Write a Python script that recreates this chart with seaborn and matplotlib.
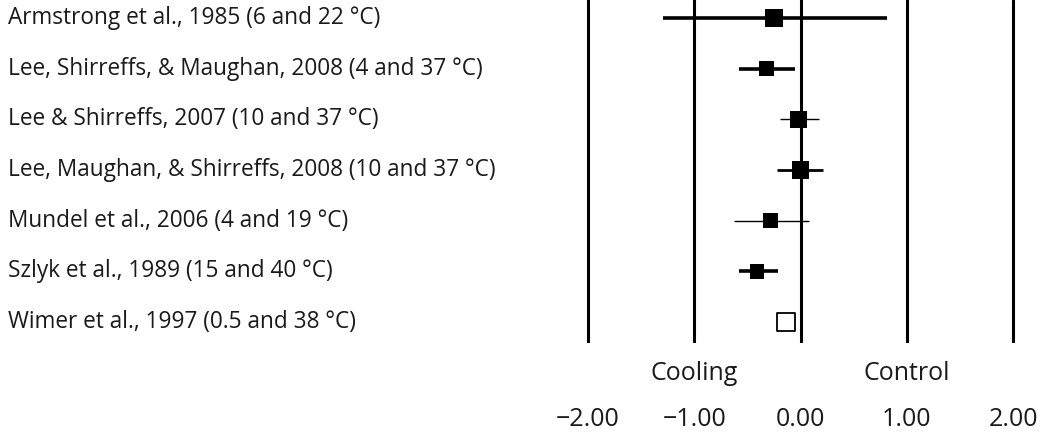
import numpy as np
import pandas as pd
import matplotlib
matplotlib.use("Agg")
import matplotlib.pyplot as plt
import seaborn as sns

# study labels, effect sizes and confidence limits
studies = [
    "Armstrong et al., 1985 (6 and 22 °C)",
    "Lee, Shirreffs, & Maughan, 2008 (4 and 37 °C)",
    "Lee & Shirreffs, 2007 (10 and 37 °C)",
    "Lee, Maughan, & Shirreffs, 2008 (10 and 37 °C)",
    "Mundel et al., 2006 (4 and 19 °C)",
    "Szlyk et al., 1989 (15 and 40 °C)",
    "Wimer et al., 1997 (0.5 and 38 °C)",
]
effect = [-0.25, -0.32, -0.02, 0.00, -0.28, -0.41, -0.14]
ci_low = [-1.29, -0.58, -0.19, -0.22, -0.63, -0.58, np.nan]
ci_high = [0.81, -0.05, 0.17, 0.21, 0.08, -0.21, np.nan]
weight = [17, 15, 16, 17, 15, 14, 18]  # square size in px
filled = [True, True, True, True, True, True, False]
ci_width = [2.6, 2.6, 1.0, 2.0, 1.0, 2.6, 0]
ref_lines = [-2, -1, 0, 1, 2]
tick_labels = ["\u22122.00", "\u22121.00", "0.00", "1.00", "2.00"]

df = pd.DataFrame({
    "study": studies,
    "effect": effect,
    "lo": ci_low,
    "hi": ci_high,
    "size": weight,
    "filled": filled,
    "lw": ci_width,
})
df["row"] = np.arange(len(df))

sns.set_theme(style="white")
plt.rcParams["font.family"] = ["Open Sans", "DejaVu Sans"]

W, H = 1045, 433
fig = plt.figure(figsize=(W / 100, H / 100), dpi=100)
ax_left, ax_right, ax_top, ax_bot = 560, 1045, 0, 343
ax = fig.add_axes([ax_left / W, 1 - ax_bot / H, (ax_right - ax_left) / W, (ax_bot - ax_top) / H])

# x scale: -2 at 588 px, 2 at 1013 px
ppu = (1013 - 588) / 4
zero = 588 + 2 * ppu
ax.set_xlim((ax_left - zero) / ppu, (ax_right - zero) / ppu)
row_gap = (322 - 18) / 6
ax.set_ylim(6 + (ax_bot - 322) / row_gap, -18 / row_gap)

for x in ref_lines:
    ax.axvline(x, color="black", lw=2.2, zorder=1)

for _, r in df.iterrows():
    if not np.isnan(r["lo"]):
        ax.hlines(r["row"], r["lo"], r["hi"], color="black", lw=r["lw"], zorder=2)

full = df[df["filled"]]
sns.scatterplot(data=full, x="effect", y="row", marker="s", s=(full["size"] * 0.74) ** 2,
                color="black", edgecolor="black", linewidth=0, ax=ax, zorder=3, legend=False)
empty = df[~df["filled"]]
sns.scatterplot(data=empty, x="effect", y="row", marker="s", s=(empty["size"] * 0.72) ** 2,
                facecolor="white", edgecolor="black", linewidth=1.3, ax=ax, zorder=3, legend=False)

txt = "#1a1a1a"
for _, r in df.iterrows():
    ax.text((8 - ax_left) / (ax_right - ax_left), r["row"], r["study"],
            transform=ax.get_yaxis_transform(), ha="left", va="center",
            fontsize=16.3, color=txt)

y_side = -(373 - ax_bot) / (ax_bot - ax_top)
ax.text(-1, y_side, "Cooling", transform=ax.get_xaxis_transform(),
        ha="center", va="center", fontsize=18, color=txt)
ax.text(1, y_side, "Control", transform=ax.get_xaxis_transform(),
        ha="center", va="center", fontsize=18, color=txt)

ax.set_xticks(ref_lines)
ax.set_xticklabels(tick_labels, fontsize=18, color=txt)
ax.tick_params(axis="x", length=0, pad=(407 - ax_bot) * 0.72)
ax.set_yticks([])
ax.set_xlabel("")
ax.set_ylabel("")
sns.despine(ax=ax, left=True, bottom=True)

fig.savefig("out.png", dpi=100)
